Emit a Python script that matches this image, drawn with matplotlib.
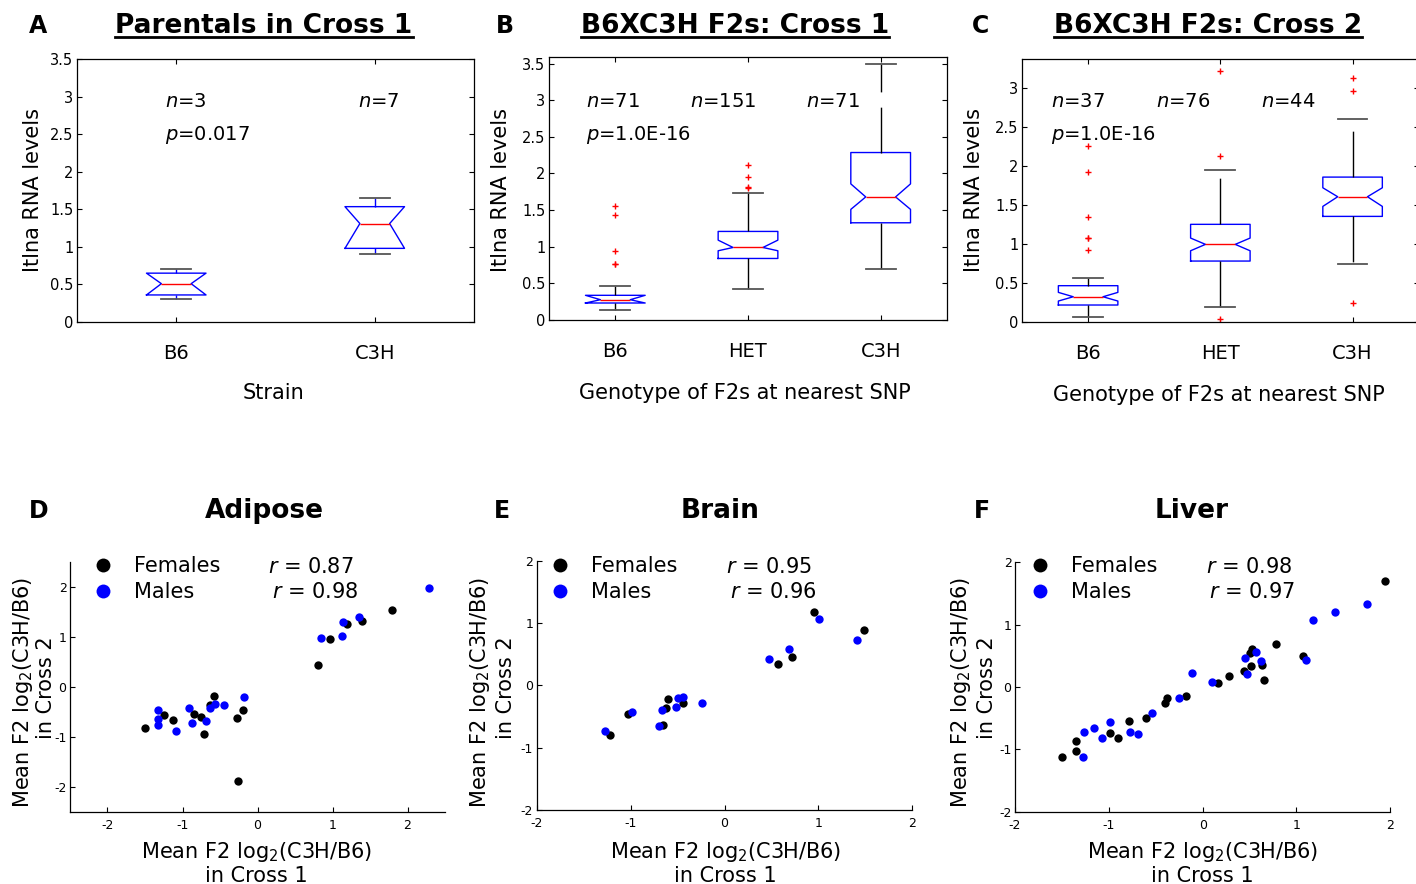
import matplotlib
matplotlib.use('Agg')
import matplotlib.pyplot as plt
from matplotlib.lines import Line2D

plt.rcParams['font.family'] = ['DejaVu Sans']
plt.rcParams['axes.unicode_minus'] = False
plt.rcParams['mathtext.fontset'] = 'dejavusans'

W, H = 1416, 884

# ---- panel A: parentals, cross 1
strain_labels = ['B6', 'C3H']
a_q1 = [0.36, 0.98]
a_med = [0.51, 1.31]
a_q3 = [0.65, 1.535]
a_lo = [0.31, 0.90]
a_hi = [0.70, 1.655]
a_n = [3, 7]
a_p = '0.017'

# ---- panel B: F2s cross 1
geno_labels = ['B6', 'HET', 'C3H']
b_q1 = [0.232, 0.84, 1.327]
b_med = [0.277, 0.99, 1.68]
b_q3 = [0.337, 1.209, 2.286]
b_cilo = [0.232, 0.945, 1.51]
b_cihi = [0.337, 1.09, 1.858]
b_lo = [0.132, 0.42, 0.70]
b_hi = [0.46, 1.736, 3.49]
b_fliers = [[1.56, 1.44, 0.937, 0.764, 0.77], [2.12, 1.95, 1.81, 1.80], []]
b_n = [71, 151, 71]
b_p = '1.0E-16'

# ---- panel C: F2s cross 2
c_q1 = [0.214, 0.778, 1.351]
c_med = [0.32, 0.992, 1.603]
c_q3 = [0.462, 1.249, 1.855]
c_cilo = [0.265, 0.91, 1.479]
c_cihi = [0.376, 1.073, 1.718]
c_lo = [0.064, 0.185, 0.736]
c_hi = [0.564, 1.945, 2.6]
c_fliers = [[2.26, 1.915, 1.338, 1.073, 1.08, 0.919], [3.218, 2.12, 0.035], [3.128, 2.954, 0.236]]
c_n = [37, 76, 44]
c_p = '1.0E-16'

# ---- panels D-F: mean F2 log2(C3H/B6), cross 1 (x) vs cross 2 (y)
d_fx = [-1.50, -1.25, -1.13, -0.85, -0.75, -0.72, -0.58, -0.64, -0.27, -0.20, -0.26, 0.80, 0.97, 1.19, 1.39, 1.79]
d_fy = [-0.82, -0.56, -0.66, -0.54, -0.61, -0.94, -0.19, -0.36, -0.62, -0.47, -1.88, 0.43, 0.96, 1.25, 1.32, 1.54]
d_mx = [-1.32, -1.32, -1.33, -1.09, -0.91, -0.88, -0.69, -0.63, -0.57, -0.45, -0.18, 0.84, 1.14, 1.13, 1.35, 2.29]
d_my = [-0.47, -0.64, -0.77, -0.88, -0.42, -0.72, -0.69, -0.42, -0.35, -0.37, -0.21, 0.97, 1.30, 1.01, 1.39, 1.97]
d_r = ['0.87', '0.98']

e_fx = [0.95, 1.49, 0.72, 0.57, -0.60, -0.44, -0.62, -1.03, -0.65, -1.22]
e_fy = [1.18, 0.89, 0.45, 0.34, -0.22, -0.28, -0.36, -0.46, -0.63, -0.80]
e_mx = [1.01, 1.41, 0.69, 0.47, -0.24, -0.44, -0.50, -0.52, -0.67, -0.99, -0.70, -1.27]
e_my = [1.06, 0.72, 0.59, 0.42, -0.28, -0.18, -0.21, -0.34, -0.39, -0.42, -0.65, -0.74]
e_r = ['0.95', '0.96']

f_fx = [-1.50, -1.35, -1.35, -0.99, -0.90, -0.78, -0.60, -0.40, -0.38, -0.18, 0.16, 0.28, 0.44, 0.52,
        0.53, 0.50, 0.63, 0.65, 0.78, 1.07, 1.94]
f_fy = [-1.12, -1.03, -0.86, -0.74, -0.81, -0.54, -0.49, -0.26, -0.18, -0.14, 0.06, 0.18, 0.26, 0.34,
        0.61, 0.55, 0.35, 0.11, 0.69, 0.49, 1.70]
f_mx = [-1.27, -1.26, -1.16, -1.07, -0.99, -0.77, -0.69, -0.54, -0.25, -0.11, 0.10, 0.45, 0.47, 0.57,
        0.62, 1.10, 1.18, 1.41, 1.75]
f_my = [-1.13, -0.72, -0.65, -0.82, -0.56, -0.72, -0.75, -0.41, -0.17, 0.22, 0.08, 0.47, 0.21, 0.56,
        0.42, 0.44, 1.08, 1.21, 1.33]
f_r = ['0.98', '0.97']

top_yticks = [0, 0.5, 1, 1.5, 2, 2.5, 3, 3.5]
top_yticklabels = ['0', '0.5', '1', '1.5', '2', '2.5', '3', '3.5']
sc_ticks = [-2, -1, 0, 1, 2]
sc_ticklabels = ['-2', '-1', '0', '1', '2']


def rect(x0, y0, x1, y1):
    return [x0 / W, 1 - y1 / H, (x1 - x0) / W, (y1 - y0) / H]


fig = plt.figure(figsize=(W / 100, H / 100), dpi=100)


def ftext(x, y, s, **kw):
    return fig.text(x / W, 1 - y / H, s, **kw)


def boxes(ax, q1, med, q3, lo, hi, cilo, cihi, fliers, width, wcol):
    stats = []
    for i in range(len(med)):
        stats.append(dict(med=med[i], q1=q1[i], q3=q3[i], whislo=lo[i], whishi=hi[i],
                          cilo=cilo[i], cihi=cihi[i], fliers=fliers[i]))
    ax.bxp(stats, positions=list(range(1, len(med) + 1)), widths=width, shownotches=True,
           manage_ticks=False,
           boxprops=dict(color='blue', lw=1.0),
           medianprops=dict(color='red', lw=1.0),
           whiskerprops=dict(color=wcol, lw=1.0, linestyle=(0, (33, 11))),
           capprops=dict(color='#555555', lw=1.3),
           flierprops=dict(marker='+', markeredgecolor='red', markersize=5, mew=1.0, linestyle='none'))


def style_top(ax, labels, ylim):
    ax.set_xlim(0.5, len(labels) + 0.5)
    ax.set_ylim(*ylim)
    ax.set_xticks(range(1, len(labels) + 1))
    ax.set_xticklabels(labels)
    k = len([t for t in top_yticks if t <= ylim[1]])
    ax.set_yticks(top_yticks[:k])
    ax.set_yticklabels(top_yticklabels[:k])
    ax.tick_params(direction='in', top=True, right=True, length=3.5, width=0.8)
    ax.tick_params(axis='x', labelsize=14, pad=16)
    ax.tick_params(axis='y', labelsize=10.5, pad=2.5)
    for s in ax.spines.values():
        s.set_linewidth(0.9)


# ---------------- top row
axA = fig.add_axes(rect(77, 59, 474, 322))
boxes(axA, a_q1, a_med, a_q3, a_lo, a_hi, a_q1, a_q3, [[], []], 0.3, 'blue')
style_top(axA, strain_labels, (0, 3.5))

axB = fig.add_axes(rect(549, 57, 947, 320))
boxes(axB, b_q1, b_med, b_q3, b_lo, b_hi, b_cilo, b_cihi, b_fliers, 0.45, 'black')
style_top(axB, geno_labels, (0, 3.59))

axC = fig.add_axes(rect(1022, 59, 1418.7, 321.7))
boxes(axC, c_q1, c_med, c_q3, c_lo, c_hi, c_cilo, c_cihi, c_fliers, 0.45, 'black')
style_top(axC, geno_labels, (0, 3.37))

# n / p annotations
for x, n in zip([165, 358], a_n):
    ftext(x, 107, r'$\mathit{n}$=%d' % n, fontsize=14, va='baseline')
ftext(165, 140, r'$\mathit{p}$=' + a_p, fontsize=14, va='baseline')
for x, n in zip([586, 690, 806], b_n):
    ftext(x, 107, r'$\mathit{n}$=%d' % n, fontsize=14, va='baseline')
ftext(586, 140.5, r'$\mathit{p}$=' + b_p, fontsize=14, va='baseline')
for x, n in zip([1051, 1156, 1261], c_n):
    ftext(x, 107, r'$\mathit{n}$=%d' % n, fontsize=14, va='baseline')
ftext(1051, 140.5, r'$\mathit{p}$=' + c_p, fontsize=14, va='baseline')

# axis labels top row
for x in [33.5, 501, 974]:
    ftext(x, 190, 'Itlna RNA levels', fontsize=15, rotation=90, ha='center', va='center')
ftext(273, 399, 'Strain', fontsize=15, ha='center', va='baseline')
ftext(745, 399, 'Genotype of F2s at nearest SNP', fontsize=15, ha='center', va='baseline')
ftext(1219, 401.5, 'Genotype of F2s at nearest SNP', fontsize=15, ha='center', va='baseline')

# panel letters and titles
for x, y, s in [(29, 33.3, 'A'), (496, 33.3, 'B'), (972, 33.3, 'C'),
                (29, 518.3, 'D'), (494, 518.3, 'E'), (974, 518.3, 'F')]:
    ftext(x, y, s, fontsize=17, fontweight='bold', ha='left', va='baseline')

top_titles = []
for x, s in [(264, 'Parentals in Cross 1'), (735, 'B6XC3H F2s: Cross 1'), (1208, 'B6XC3H F2s: Cross 2')]:
    top_titles.append(ftext(x, 33.3, s, fontsize=19, fontweight='bold', ha='center', va='baseline'))
for x, s in [(264, 'Adipose'), (720, 'Brain'), (1192, 'Liver')]:
    ftext(x, 518.3, s, fontsize=19, fontweight='bold', ha='center', va='baseline')


# ---------------- bottom row
def scatter_panel(ax, fx, fy, mx, my, r, lim, leg_x, r_x, lab):
    ax.plot(fx, fy, 'o', color='black', ms=6, mec='none')
    ax.plot(mx, my, 'o', color='blue', ms=6, mec='none')
    ax.set_xlim(*lim)
    ax.set_ylim(*lim)
    ax.set_xticks(sc_ticks)
    ax.set_xticklabels(sc_ticklabels)
    ax.set_yticks(sc_ticks)
    ax.set_yticklabels(sc_ticklabels)
    ax.spines['top'].set_visible(False)
    ax.spines['right'].set_visible(False)
    for s in ax.spines.values():
        s.set_linewidth(0.9)
    ax.tick_params(direction='in', length=3.5, width=0.8, labelsize=9)
    ax.tick_params(axis='x', pad=5)
    ax.tick_params(axis='y', pad=2.5)
    handles = [Line2D([], [], marker='o', ls='none', color='black', ms=10, mec='none'),
               Line2D([], [], marker='o', ls='none', color='blue', ms=10, mec='none')]
    ax.legend(handles, ['Females', 'Males'], loc='upper left', frameon=False, fontsize=15,
              bbox_to_anchor=((leg_x - 10.4) / W, 1 - 556 / H), bbox_transform=fig.transFigure,
              borderpad=0, borderaxespad=0, handlelength=1.0, handletextpad=1.0, labelspacing=0.28)
    ftext(r_x, 572.7, r'$\mathit{r}$ = ' + r[0], fontsize=15, va='baseline')
    ftext(r_x + 3.7, 598.3, r'$\mathit{r}$ = ' + r[1], fontsize=15, va='baseline')
    yl1, yl2, ycen, xcen = lab
    ftext(yl1, ycen, 'Mean F2 log$_2$(C3H/B6)', fontsize=15, rotation=90, rotation_mode='anchor',
          ha='center', va='baseline')
    ftext(yl2, ycen - 4, 'in Cross 2', fontsize=15, rotation=90, rotation_mode='anchor',
          ha='center', va='baseline')
    ftext(xcen, 857.5, 'Mean F2 log$_2$(C3H/B6)', fontsize=15, ha='center', va='baseline')
    ftext(xcen, 882.5, 'in Cross 1', fontsize=15, ha='center', va='baseline')


axD = fig.add_axes(rect(70, 561.7, 445, 811.7))
scatter_panel(axD, d_fx, d_fy, d_mx, d_my, d_r, (-2.5, 2.5), 102.7, 268, (29.5, 51.5, 692, 256.7))
axE = fig.add_axes(rect(536.7, 560.7, 912.3, 810))
scatter_panel(axE, e_fx, e_fy, e_mx, e_my, e_r, (-2, 2), 560, 726, (486.3, 511.7, 692, 725.8))
axF = fig.add_axes(rect(1015, 562.3, 1390.3, 811.7))
scatter_panel(axF, f_fx, f_fy, f_mx, f_my, f_r, (-2, 2), 1040, 1205.7, (966.7, 993.3, 692, 1202.5))

# underline the top titles
fig.canvas.draw()
renderer = fig.canvas.get_renderer()
for t in top_titles:
    bb = t.get_window_extent(renderer).transformed(fig.transFigure.inverted())
    y = 1 - 37.3 / H
    fig.add_artist(Line2D([bb.x0, bb.x1], [y, y], transform=fig.transFigure, color='black', lw=2.0))

fig.savefig('out.png', dpi=100)
